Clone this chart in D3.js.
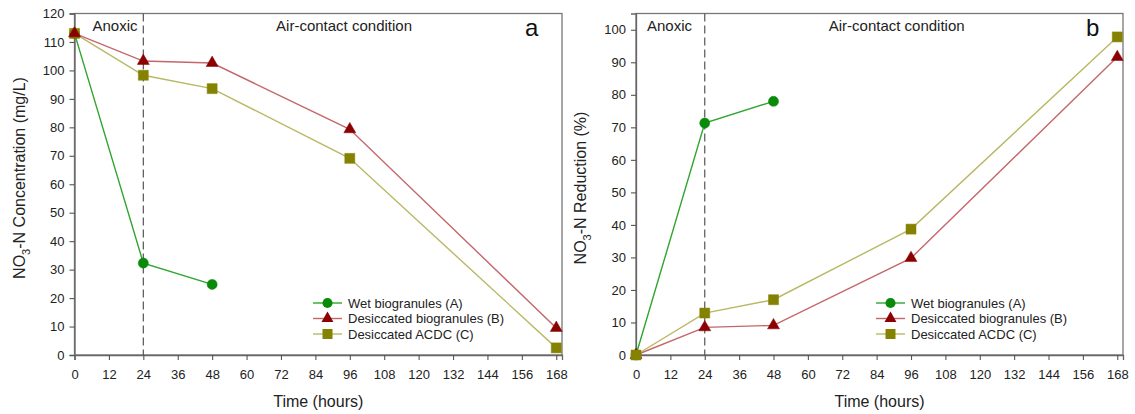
<!DOCTYPE html>
<html>
<head>
<meta charset="utf-8">
<script src="https://cdn.jsdelivr.net/npm/d3@7"></script>
<style>
  html, body { margin: 0; padding: 0; background: #fff; }
  svg { display: block; font-family: "Liberation Sans", Arial, sans-serif; }
</style>
</head>
<body>
<svg id="chart" width="1135" height="414"></svg>
<script>
// Sampling times (hours)
const timeAll = [0, 24, 48, 96, 168];
const timeWet = [0, 24, 48];
const xTicks = [0, 12, 24, 36, 48, 60, 72, 84, 96, 108, 120, 132, 144, 156, 168];

// Panel a: NO3-N concentration (mg/L)
const concWet = [113, 32.3, 24.8];
const concDesB = [113, 103.3, 102.6, 79.3, 9.5];
const concAcdc = [113, 98.3, 93.6, 69.1, 2.5];
const concTicks = [0, 10, 20, 30, 40, 50, 60, 70, 80, 90, 100, 110, 120];

// Panel b: NO3-N reduction (%)
const redWet = [0, 71.3, 78.0];
const redDesB = [0, 8.5, 9.1, 29.8, 91.6];
const redAcdc = [0, 12.9, 17.0, 38.7, 97.8];
const redTicks = [0, 10, 20, 30, 40, 50, 60, 70, 80, 90, 100];

const seriesNames = ["Wet biogranules (A)", "Desiccated biogranules (B)", "Desiccated ACDC (C)"];
const seriesStyle = [
  { line: "#2fa52f", fill: "#0a8a0a", shape: "circle" },
  { line: "#c4676b", fill: "#8b0000", shape: "triangle" },
  { line: "#b9b864", fill: "#848200", shape: "square" }
];

const svg = d3.select("#chart");

function markerPath(shape) {
  if (shape === "circle") return d3.symbol(d3.symbolCircle, 80)();
  if (shape === "triangle") return d3.symbol(d3.symbolTriangle, 62)();
  return d3.symbol(d3.symbolSquare, 100)();
}

function drawPanel(opt) {
  const g = svg.append("g");
  const x = d3.scaleLinear().domain([0, 170]).range([opt.left, opt.right]);
  const y = d3.scaleLinear().domain([0, opt.yMax]).range([355, 13.5]);

  // frame
  g.append("rect")
    .attr("x", opt.left).attr("y", 13.5)
    .attr("width", opt.right - opt.left).attr("height", 355 - 13.5)
    .attr("fill", "none").attr("stroke", "#777").attr("stroke-width", 1.3);

  // axes
  const xAxis = g.append("g").attr("transform", `translate(0,355)`)
    .call(d3.axisBottom(x).tickValues(xTicks).tickSize(5).tickPadding(10).tickFormat(d3.format("d")));
  const yAxis = g.append("g").attr("transform", `translate(${opt.left},0)`)
    .call(d3.axisLeft(y).tickValues(opt.yTicks).tickSize(5).tickPadding(5).tickFormat(d3.format("d")));
  [xAxis, yAxis].forEach(a => {
    a.select(".domain").attr("stroke", "#666").attr("stroke-width", 1.3);
    a.selectAll(".tick line").attr("stroke", "#555").attr("stroke-width", 1.1);
    a.selectAll(".tick text").attr("fill", "#222").style("font-size", "13px")
      .style("font-family", "'Liberation Sans', Arial, sans-serif");
  });

  // divider between anoxic and air-contact phases
  g.append("line")
    .attr("x1", x(24)).attr("x2", x(24)).attr("y1", 13.5).attr("y2", 355)
    .attr("stroke", "#555").attr("stroke-width", 1.2).attr("stroke-dasharray", "8,4");

  g.append("text").attr("x", opt.left + opt.anoxicDx).attr("y", 30.5)
    .attr("font-size", 15).attr("fill", "#222").text("Anoxic");
  g.append("text").attr("x", x(opt.airX)).attr("y", 30.5).attr("text-anchor", "middle")
    .attr("font-size", 15).attr("fill", "#222").text("Air-contact condition");
  g.append("text").attr("x", opt.right - 37).attr("y", 36)
    .attr("font-size", 24).attr("fill", "#111").text(opt.letter);

  // axis titles
  g.append("text").attr("x", (opt.left + opt.right) / 2).attr("y", 407)
    .attr("text-anchor", "middle").attr("font-size", 16).attr("fill", "#222").text("Time (hours)");
  const yt = g.append("text")
    .attr("transform", `translate(${opt.left - 50},${opt.yTitleY}) rotate(-90)`)
    .attr("text-anchor", "middle").attr("font-size", 16).attr("fill", "#222");
  yt.append("tspan").text("NO");
  yt.append("tspan").attr("dy", 5).attr("font-size", 11).text("3");
  yt.append("tspan").attr("dy", -5).text(opt.yTitleRest);

  // series
  const data = [
    timeWet.map((t, i) => [t, opt.values[0][i]]),
    timeAll.map((t, i) => [t, opt.values[1][i]]),
    timeAll.map((t, i) => [t, opt.values[2][i]])
  ];
  const line = d3.line().x(d => x(d[0])).y(d => y(d[1]));
  const order = opt.drawOrder;
  order.forEach(k => {
    g.append("path").datum(data[k]).attr("d", line)
      .attr("fill", "none").attr("stroke", seriesStyle[k].line).attr("stroke-width", 1.4);
  });
  order.forEach(k => {
    g.selectAll(null).data(data[k]).enter().append("path")
      .attr("d", markerPath(seriesStyle[k].shape))
      .attr("transform", d => `translate(${x(d[0])},${y(d[1])})`)
      .attr("fill", seriesStyle[k].fill)
      .attr("stroke", seriesStyle[k].fill).attr("stroke-width", 0.5);
  });

  // legend
  const lg = g.append("g");
  seriesNames.forEach((name, k) => {
    const ly = opt.legY + k * 15.5;
    lg.append("line").attr("x1", opt.legX).attr("x2", opt.legX + 29).attr("y1", ly).attr("y2", ly)
      .attr("stroke", seriesStyle[k].line).attr("stroke-width", 1.4);
    lg.append("path").attr("d", markerPath(seriesStyle[k].shape))
      .attr("transform", `translate(${opt.legX + 14.5},${ly})`)
      .attr("fill", seriesStyle[k].fill);
    lg.append("text").attr("x", opt.legX + 35).attr("y", ly + 4.5)
      .attr("font-size", 13).attr("fill", "#222").text(name);
  });
}

drawPanel({
  left: 74.5, right: 562, yMax: 120, yTicks: concTicks, letter: "a", airX: 94, anoxicDx: 18,
  yTitleY: 178, yTitleRest: "-N Concentration (mg/L)",
  values: [concWet, concDesB, concAcdc], drawOrder: [0, 2, 1],
  legX: 313, legY: 303
});

drawPanel({
  left: 636, right: 1123, yMax: 105, yTicks: redTicks, letter: "b", airX: 91, anoxicDx: 11,
  yTitleY: 188, yTitleRest: "-N Reduction (%)",
  values: [redWet, redDesB, redAcdc], drawOrder: [0, 1, 2],
  legX: 876, legY: 303
});
</script>
</body>
</html>
